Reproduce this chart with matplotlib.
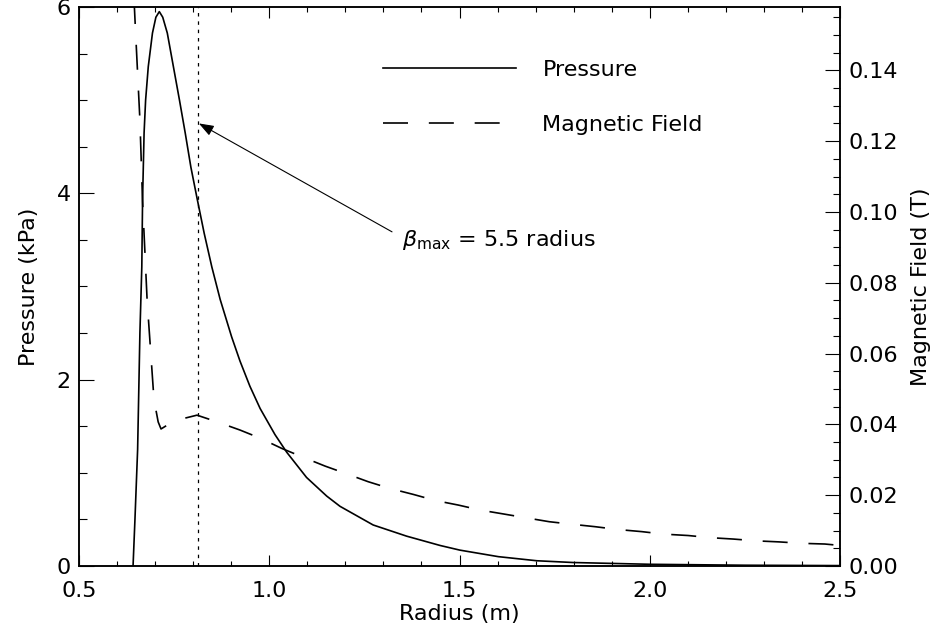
import matplotlib
matplotlib.use('Agg')
import matplotlib.pyplot as plt
from matplotlib.ticker import MultipleLocator, FormatStrFormatter

plt.rcParams['font.family'] = ['DejaVu Sans']
plt.rcParams['font.size'] = 16
plt.rcParams['mathtext.fontset'] = 'dejavusans'
plt.rcParams['lines.scale_dashes'] = False

# pressure profile (kPa) vs radius (m)
radius_p = [0.642, 0.647, 0.654, 0.660, 0.665, 0.667, 0.671, 0.675, 0.682, 0.693,
            0.702, 0.711, 0.720, 0.732, 0.748, 0.764, 0.779, 0.794, 0.811, 0.829,
            0.849, 0.871, 0.901, 0.923, 0.949, 0.976, 1.015, 1.046, 1.098, 1.151,
            1.186, 1.273, 1.361, 1.449, 1.501, 1.602, 1.703, 1.799, 2.001, 2.250,
            2.500]
pressure = [0.00, 0.50, 1.25, 2.50, 3.21, 3.93, 4.65, 5.00, 5.36, 5.72,
            5.89, 5.95, 5.89, 5.72, 5.36, 5.00, 4.65, 4.28, 3.93, 3.57,
            3.21, 2.86, 2.46, 2.20, 1.93, 1.69, 1.41, 1.22, 0.95, 0.75,
            0.64, 0.44, 0.32, 0.22, 0.17, 0.10, 0.056, 0.037, 0.018, 0.008,
            0.004]

# magnetic field (T) vs radius (m)
radius_b = [0.641, 0.649, 0.660, 0.667, 0.673, 0.679, 0.688, 0.697, 0.708, 0.7155,
            0.747, 0.780, 0.810, 0.863, 0.923, 0.976, 1.033, 1.089, 1.147, 1.204,
            1.260, 1.317, 1.379, 1.436, 1.497, 1.554, 1.615, 1.675, 1.736, 1.794,
            1.856, 1.916, 1.979, 2.036, 2.101, 2.158, 2.220, 2.279, 2.340, 2.399,
            2.460, 2.500]
bfield = [0.168, 0.150, 0.126, 0.103, 0.089, 0.075, 0.061, 0.047, 0.0407, 0.0387,
          0.0408, 0.0418, 0.0426, 0.0407, 0.0384, 0.0361, 0.0332, 0.0307, 0.0282, 0.0260,
          0.0238, 0.0219, 0.0202, 0.0185, 0.0172, 0.0158, 0.0147, 0.0136, 0.0125, 0.0118,
          0.0111, 0.0103, 0.0097, 0.0090, 0.0086, 0.0080, 0.0076, 0.0071, 0.0068, 0.0064,
          0.0062, 0.0058]

beta_max_r = 0.813
arrow_tip = (0.815, 4.75)

fig = plt.figure(figsize=(9.43, 6.34), dpi=100)
ax = fig.add_axes([0.0838, 0.1073, 0.8070, 0.8817])
ax2 = ax.twinx()

l1, = ax.plot(radius_p, pressure, color='black', lw=1.2, label='Pressure')
l2, = ax2.plot(radius_b, bfield, color='black', lw=1.2, dashes=(18, 15),
               label='Magnetic Field')
ax.axvline(beta_max_r, color='black', lw=0.9, dashes=(2.5, 3.5))

ax.set_xlim(0.5, 2.5)
ax.set_ylim(0, 6)
ax2.set_ylim(0, 0.1579)

ax.xaxis.set_major_locator(MultipleLocator(0.5))
ax.xaxis.set_minor_locator(MultipleLocator(0.1))
ax.xaxis.set_major_formatter(FormatStrFormatter('%.1f'))
ax.yaxis.set_major_locator(MultipleLocator(2))
ax.yaxis.set_minor_locator(MultipleLocator(0.5))
ax2.yaxis.set_major_locator(MultipleLocator(0.02))
ax2.yaxis.set_minor_locator(MultipleLocator(0.005))
ax2.yaxis.set_major_formatter(FormatStrFormatter('%.2f'))

ax.tick_params(axis='x', which='both', direction='in', top=True, bottom=True,
               pad=11, width=0.8)
ax.tick_params(axis='x', which='major', length=8)
ax.tick_params(axis='x', which='minor', length=3.3)
ax.tick_params(axis='y', which='both', direction='in', left=True, right=False,
               pad=6, width=0.8)
ax.tick_params(axis='y', which='major', length=10.8)
ax.tick_params(axis='y', which='minor', length=5.8)
ax2.tick_params(axis='y', which='both', direction='in', right=True, left=False,
                pad=6, width=0.8)
ax2.tick_params(axis='y', which='major', length=10.8)
ax2.tick_params(axis='y', which='minor', length=5.0)

for a in (ax, ax2):
    for s in a.spines.values():
        s.set_linewidth(1.1)

ax.set_xlabel('Radius (m)')
ax.set_ylabel('Pressure (kPa)')
ax2.set_ylabel('Magnetic Field (T)')
ax.xaxis.set_label_coords(0.5, -0.068)
ax.yaxis.set_label_coords(-0.052, 0.5)
ax2.yaxis.set_label_coords(1.093, 0.5)

ax.legend([l1, l2], ['Pressure', 'Magnetic Field'], loc='upper left',
          bbox_to_anchor=(0.3995, 0.905), frameon=False, borderpad=0,
          borderaxespad=0, handlelength=6.0, handletextpad=1.17,
          labelspacing=1.55)

ax.annotate(r'$\beta_{\rm max}$ = 5.5 radius', xy=arrow_tip, xytext=(1.349, 3.50),
            ha='left', va='center',
            arrowprops=dict(arrowstyle='-|>,head_length=0.6,head_width=0.22',
                            mutation_scale=15, color='black', lw=0.8,
                            shrinkA=6, shrinkB=0, relpos=(0, 0.6)))

fig.savefig('out.png', dpi=100)
